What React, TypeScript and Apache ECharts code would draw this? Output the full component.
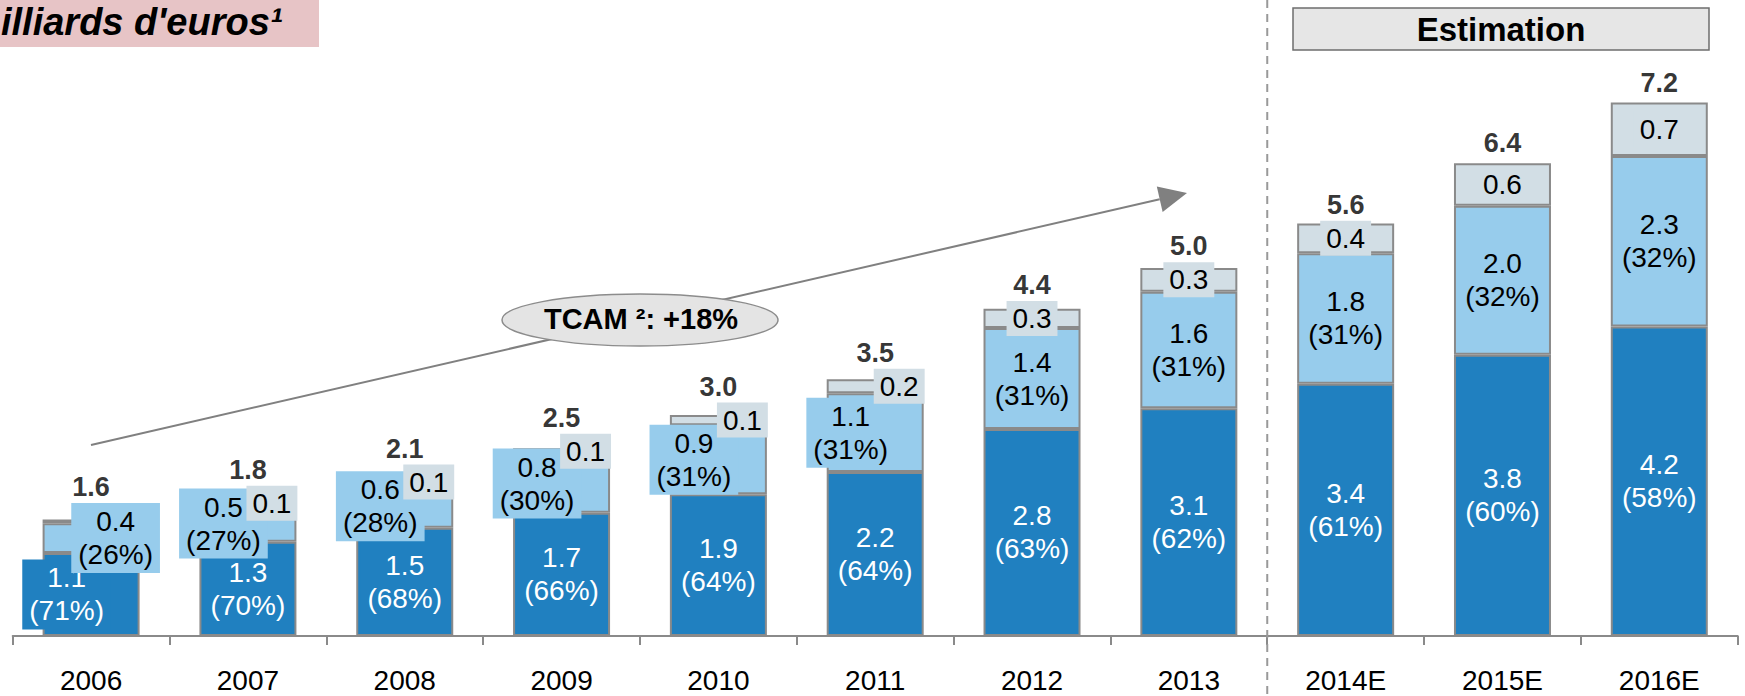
import React, { useEffect, useRef } from "react";
import * as echarts from "echarts";

// ---- data (milliards d'euros) ----
const years = ["2006", "2007", "2008", "2009", "2010", "2011", "2012", "2013", "2014E", "2015E", "2016E"];
const coreValues = [1.12, 1.27, 1.46, 1.66, 1.91, 2.21, 2.79, 3.07, 3.4, 3.79, 4.17];
const midValues = [0.4, 0.49, 0.58, 0.79, 0.93, 1.06, 1.36, 1.57, 1.76, 2.01, 2.3];
const otherValues = [0.05, 0.06, 0.07, 0.08, 0.14, 0.19, 0.26, 0.32, 0.4, 0.57, 0.72];
const corePct = [71, 70, 68, 66, 64, 64, 63, 62, 61, 60, 58];
const midPct = [26, 27, 28, 30, 31, 31, 31, 31, 31, 32, 32];
const firstEstimate = 8;
const titleText = "illiards d'euros¹";
const cagrText = "TCAM ²: +18%";
const estimateText = "Estimation";

// ---- layout / style ----
const W = 1745;
const H = 696;
const GRID_LEFT = 12.7;
const GRID_RIGHT = 7.3;
const GRID_TOP = 42.4;
const GRID_BOTTOM = 60;
const Y_MAX = 8;
const PX = (H - GRID_TOP - GRID_BOTTOM) / Y_MAX;
const FONT = "'Liberation Sans', Arial, Helvetica, sans-serif";
const DARK = "#2080c0";
const LIGHT = "#97ccec";
const GREY = "#d2dee5";
const BORDER = "#8a8a8a";
const SHIFT = 24.5;
const FS = 28;

const totals = coreValues.map((v, i) => v + midValues[i] + otherValues[i]);
const compact = (i: number) => totals[i] < 4;
const otherLabelShown = (i: number) => i !== 0;

function totalDistance(i: number) {
  const top = totals[i] * PX;
  let ext = 0;
  if (otherLabelShown(i)) {
    const c = (coreValues[i] + midValues[i] + otherValues[i] / 2) * PX + 17.5;
    ext = Math.max(ext, c - top);
  }
  const m = (coreValues[i] + midValues[i] / 2) * PX + 35;
  ext = Math.max(ext, m - top);
  return ext > 0 ? ext + 3 : 7;
}

export default function App() {
  const ref = useRef<HTMLDivElement>(null);
  useEffect(() => {
    if (!ref.current) return;
    const chart = echarts.init(ref.current, undefined, { renderer: "svg" });
    const catW = (W - GRID_LEFT - GRID_RIGHT) / years.length;
    const sepX = GRID_LEFT + firstEstimate * catW;

    // arrow geometry
    const ax1 = 91, ay1 = 445, tipX = 1187, tipY = 193;
    const dx = tipX - ax1, dy = tipY - ay1;
    const len = Math.sqrt(dx * dx + dy * dy);
    const ux = dx / len, uy = dy / len;
    const bx = tipX - 28 * ux, by = tipY - 28 * uy;
    const px = -uy * 13, py = ux * 13;

    const baseLabel = {
      show: true,
      position: "inside" as const,
      fontSize: FS,
      fontFamily: FONT,
      textBorderWidth: 0,
    };

    chart.setOption({
      animation: false,
      textStyle: { fontFamily: FONT },
      grid: { left: GRID_LEFT, right: GRID_RIGHT, top: GRID_TOP, bottom: GRID_BOTTOM },
      xAxis: {
        type: "category",
        data: years,
        axisLine: { show: true, lineStyle: { color: BORDER, width: 2 } },
        axisTick: { show: true, length: 9, interval: 0, lineStyle: { color: BORDER, width: 2 } },
        axisLabel: { fontSize: FS, color: "#000", margin: 30, fontFamily: FONT, interval: 0 },
      },
      yAxis: { type: "value", min: 0, max: Y_MAX, show: false, splitLine: { show: false } },
      series: [
        {
          name: "core",
          type: "bar",
          stack: "total",
          barWidth: 97,
          itemStyle: { color: DARK, borderColor: BORDER, borderWidth: 2 },
          data: coreValues.map((v, i) => ({
            value: v,
            label: { offset: [i === 0 ? -SHIFT : 0, 0] },
          })),
          label: {
            ...baseLabel,
            color: "#fff",
            lineHeight: 33,
            backgroundColor: DARK,
            padding: [2, 7],
            formatter: (p: any) => `${coreValues[p.dataIndex].toFixed(1)}\n(${corePct[p.dataIndex]}%)`,
          },
        },
        {
          name: "mid",
          type: "bar",
          stack: "total",
          barWidth: 97,
          itemStyle: { color: LIGHT, borderColor: BORDER, borderWidth: 2 },
          data: midValues.map((v, i) => ({
            value: v,
            label: { offset: [i === 0 ? SHIFT : compact(i) ? -SHIFT : 0, 0] },
          })),
          label: {
            ...baseLabel,
            color: "#000",
            lineHeight: 33,
            backgroundColor: LIGHT,
            padding: [2, 7],
            formatter: (p: any) => `${midValues[p.dataIndex].toFixed(1)}\n(${midPct[p.dataIndex]}%)`,
          },
        },
        {
          name: "other",
          type: "bar",
          stack: "total",
          barWidth: 97,
          itemStyle: { color: GREY, borderColor: BORDER, borderWidth: 2 },
          data: otherValues.map((v, i) => ({
            value: v,
            label: {
              show: otherLabelShown(i),
              offset: [compact(i) ? SHIFT - 0.5 : 0, 0],
            },
          })),
          label: {
            ...baseLabel,
            color: "#000",
            lineHeight: 31,
            backgroundColor: GREY,
            padding: [2, 6],
            formatter: (p: any) => otherValues[p.dataIndex].toFixed(1),
          },
        },
        {
          name: "total",
          type: "scatter",
          symbolSize: 0,
          z: 10,
          data: totals.map((t, i) => ({ value: t, label: { distance: totalDistance(i) } })),
          label: {
            show: true,
            position: "top",
            fontSize: 27,
            lineHeight: 26,
            fontWeight: "bold",
            color: "#000",
            fontFamily: FONT,
            formatter: (p: any) => totals[p.dataIndex].toFixed(1),
          },
        },
      ],
      graphic: [
        { type: "rect", shape: { x: 0, y: 0, width: 319, height: 47 }, style: { fill: "#e7c4c6" }, z: 1 },
        {
          type: "text",
          x: 1,
          y: 22,
          z: 2,
          style: {
            text: titleText,
            font: `italic bold 38px ${FONT}`,
            fill: "#000",
            textAlign: "left",
            textVerticalAlign: "middle",
          },
        },
        {
          type: "line",
          shape: { x1: sepX, y1: 0, x2: sepX, y2: H },
          style: { stroke: "#999", lineWidth: 2, lineDash: [8, 6] },
          z: 1,
        },
        {
          type: "rect",
          shape: { x: 1293, y: 8, width: 416, height: 42 },
          style: { fill: "#e6e6e6", stroke: "#6e6e6e", lineWidth: 1.5 },
          z: 1,
        },
        {
          type: "text",
          x: 1501,
          y: 29,
          z: 2,
          style: {
            text: estimateText,
            font: `bold 33px ${FONT}`,
            fill: "#000",
            textAlign: "center",
            textVerticalAlign: "middle",
          },
        },
        {
          type: "line",
          shape: { x1: ax1, y1: ay1, x2: bx, y2: by },
          style: { stroke: "#808080", lineWidth: 2 },
          z: 1,
        },
        {
          type: "polygon",
          shape: { points: [[tipX, tipY], [bx + px, by + py], [bx - px, by - py]] },
          style: { fill: "#808080" },
          z: 1,
        },
        {
          type: "ellipse",
          shape: { cx: 640, cy: 320, rx: 138, ry: 26 },
          style: { fill: "#e4e4e4", stroke: "#8c8c8c", lineWidth: 1.5 },
          z: 2,
        },
        {
          type: "text",
          x: 641,
          y: 319,
          z: 3,
          style: {
            text: cagrText,
            font: `bold 29px ${FONT}`,
            fill: "#000",
            textAlign: "center",
            textVerticalAlign: "middle",
          },
        },
      ],
    });
    return () => chart.dispose();
  }, []);
  return (
    <div
      ref={ref}
      style={{ position: "absolute", left: 0, top: 0, width: W, height: H, background: "#fff" }}
    />
  );
}
